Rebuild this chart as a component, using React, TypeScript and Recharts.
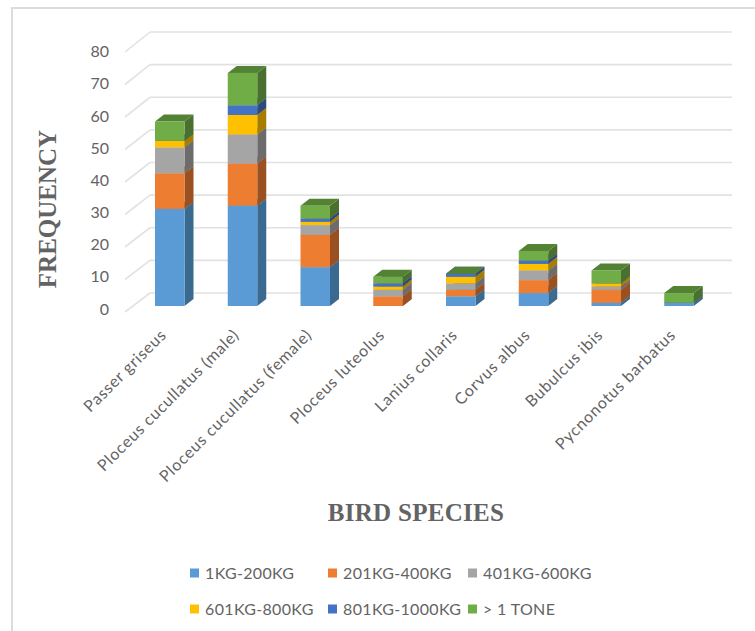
import React from "react";
import { BarChart, Bar, XAxis, YAxis, CartesianGrid, Legend } from "recharts";

const species = [
  "Passer griseus",
  "Ploceus cucullatus (male)",
  "Ploceus cucullatus (female)",
  "Ploceus luteolus",
  "Lanius collaris",
  "Corvus albus",
  "Bubulcus ibis",
  "Pycnonotus barbatus",
];

const load1to200 = [30, 31, 12, 0, 3, 4, 1, 1];
const load201to400 = [11, 13, 10, 3, 2, 4, 4, 0];
const load401to600 = [8, 9, 3, 2, 2, 3, 1, 0];
const load601to800 = [2, 6, 1, 1, 2, 2, 1, 0];
const load801to1000 = [0, 3, 1, 1, 1, 1, 0, 0];
const loadOver1Tone = [6, 10, 4, 2, 0, 3, 4, 3];

const yTicks = [0, 10, 20, 30, 40, 50, 60, 70, 80];

const seriesDefs = [
  { key: "a", name: "1KG-200KG", values: load1to200, fill: "#5B9BD5", side: "#3A6A90", top: "#4A80B0" },
  { key: "b", name: "201KG-400KG", values: load201to400, fill: "#ED7D31", side: "#9A5020", top: "#B8622A" },
  { key: "c", name: "401KG-600KG", values: load401to600, fill: "#A5A5A5", side: "#6C6C6C", top: "#858585" },
  { key: "d", name: "601KG-800KG", values: load601to800, fill: "#FFC000", side: "#A67D00", top: "#C89600" },
  { key: "e", name: "801KG-1000KG", values: load801to1000, fill: "#4472C4", side: "#2C4A80", top: "#365C9C" },
  { key: "f", name: "> 1 TONE", values: loadOver1Tone, fill: "#70AD47", side: "#4A7030", top: "#548235" },
];

const rows = species.map((name, i) => {
  const row: Record<string, string | number> = { name };
  seriesDefs.forEach((s) => {
    row[s.key] = s.values[i];
  });
  return row;
});

const DEPTH_X = 9;
const DEPTH_Y = 7;
const PLOT_TOP = 47;
const PLOT_BOTTOM = 306;
const PLOT_HEIGHT = PLOT_BOTTOM - PLOT_TOP;
const LEGEND_TOP = 555;
const LEGEND_HEIGHT = 76;
const LABEL_FONT = "Lato, 'Open Sans', sans-serif";
const TITLE_FONT = "'Liberation Serif', serif";
const TEXT_GREY = "#636363";

const valueAt = (y: number) => ((PLOT_BOTTOM - y) / PLOT_HEIGHT) * 80;

// A stacked segment with its right side and top faces extruded backwards.
function Box3D(props: any) {
  const { x, y, width, height, fill, side, top } = props;
  const r = x + width;
  const b = y + height;
  return (
    <g>
      <polygon
        points={`${r},${y} ${r + DEPTH_X},${y - DEPTH_Y} ${r + DEPTH_X},${b - DEPTH_Y} ${r},${b}`}
        fill={side}
      />
      <polygon
        points={`${x},${y} ${r},${y} ${r + DEPTH_X},${y - DEPTH_Y} ${x + DEPTH_X},${y - DEPTH_Y}`}
        fill={top}
      />
      <rect x={x} y={y} width={width} height={height} fill={fill} />
    </g>
  );
}

// Back wall gridline plus the diagonal running forward across the floor edge.
function WallLine(props: any) {
  const v = valueAt(props.y1);
  const backY = 293 - v * 3.2625;
  const frontY = 312 - v * 3.25;
  return (
    <g fill="none" stroke="#E2E2E2" strokeWidth={1.6}>
      <line x1={150} y1={backY} x2={732} y2={backY} />
      <line x1={125} y1={frontY} x2={150} y2={backY} />
    </g>
  );
}

function ValueTick(props: any) {
  const v = props.payload.value;
  return (
    <text
      x={109}
      y={308 - v * 3.215}
      textAnchor="end"
      dominantBaseline="central"
      fontFamily={LABEL_FONT}
      fontSize={16}
      fill={TEXT_GREY}
    >
      {v}
    </text>
  );
}

function SpeciesTick(props: any) {
  const { x, payload } = props;
  return (
    <text
      transform={`translate(${x - 2},${336}) rotate(-45)`}
      textAnchor="end"
      fontFamily={LABEL_FONT}
      fontSize={16}
      letterSpacing={0.75}
      fill={TEXT_GREY}
    >
      {payload.value}
    </text>
  );
}

function KeyRows(props: any) {
  const columns = [190, 328, 468];
  const lines = [17, 53];
  return (
    <svg width={755} height={LEGEND_HEIGHT} style={{ display: "block" }}>
      {(props.payload || []).map((item: any, i: number) => {
        const cx = columns[i % 3];
        const cy = lines[Math.floor(i / 3)];
        return (
          <g key={item.value}>
            <rect x={cx} y={cy - 3.5} width={9} height={9} fill={item.color} />
            <text
              x={cx + 15}
              y={cy}
              dominantBaseline="central"
              fontFamily={LABEL_FONT}
              fontSize={16}
              letterSpacing={0.35}
              fill={TEXT_GREY}
            >
              {item.value}
            </text>
          </g>
        );
      })}
    </svg>
  );
}

export default function App() {
  return (
    <div style={{ position: "absolute", left: 0, top: 0, width: 755, height: 631, overflow: "hidden", background: "#fff" }}>
      <div
        style={{
          position: "absolute",
          left: 11,
          top: 7,
          width: 800,
          height: 700,
          border: "2px solid #DCDCDC",
          boxSizing: "border-box",
        }}
      />
      <BarChart
        width={755}
        height={631}
        data={rows}
        barCategoryGap={0}
        barSize={29.5}
        margin={{ top: PLOT_TOP, right: 40, bottom: 0, left: 0 }}
        style={{ position: "absolute", left: 0, top: 0 }}
      >
        <CartesianGrid vertical={false} horizontal={(p: any) => <WallLine key={p.key ?? p.y1} {...p} />} />
        <XAxis
          dataKey="name"
          height={631 - PLOT_BOTTOM - LEGEND_HEIGHT}
          interval={0}
          axisLine={false}
          tickLine={false}
          tick={<SpeciesTick />}
          label={{
            value: "BIRD SPECIES",
            content: () => (
              <text x={416} y={521} textAnchor="middle" fontFamily={TITLE_FONT} fontWeight="bold" fontSize={25} letterSpacing={0.3} fill={TEXT_GREY}>
                BIRD SPECIES
              </text>
            ),
          }}
        />
        <YAxis
          width={133}
          domain={[0, 80]}
          ticks={yTicks}
          axisLine={false}
          tickLine={false}
          tick={<ValueTick />}
          label={{
            value: "FREQUENCY",
            content: () => (
              <text
                transform="translate(56,209) rotate(-90)"
                textAnchor="middle"
                fontFamily={TITLE_FONT}
                fontWeight="bold"
                fontSize={25}
                fill={TEXT_GREY}
              >
                FREQUENCY
              </text>
            ),
          }}
        />
        <Legend
          content={<KeyRows />}
          wrapperStyle={{ position: "absolute", left: 0, top: LEGEND_TOP, width: 755, height: LEGEND_HEIGHT }}
        />
        {seriesDefs.map((s) => (
          <Bar
            key={s.key}
            dataKey={s.key}
            name={s.name}
            stackId="load"
            fill={s.fill}
            isAnimationActive={false}
            shape={(p: any) => <Box3D {...p} side={s.side} top={s.top} />}
          />
        ))}
      </BarChart>
    </div>
  );
}
